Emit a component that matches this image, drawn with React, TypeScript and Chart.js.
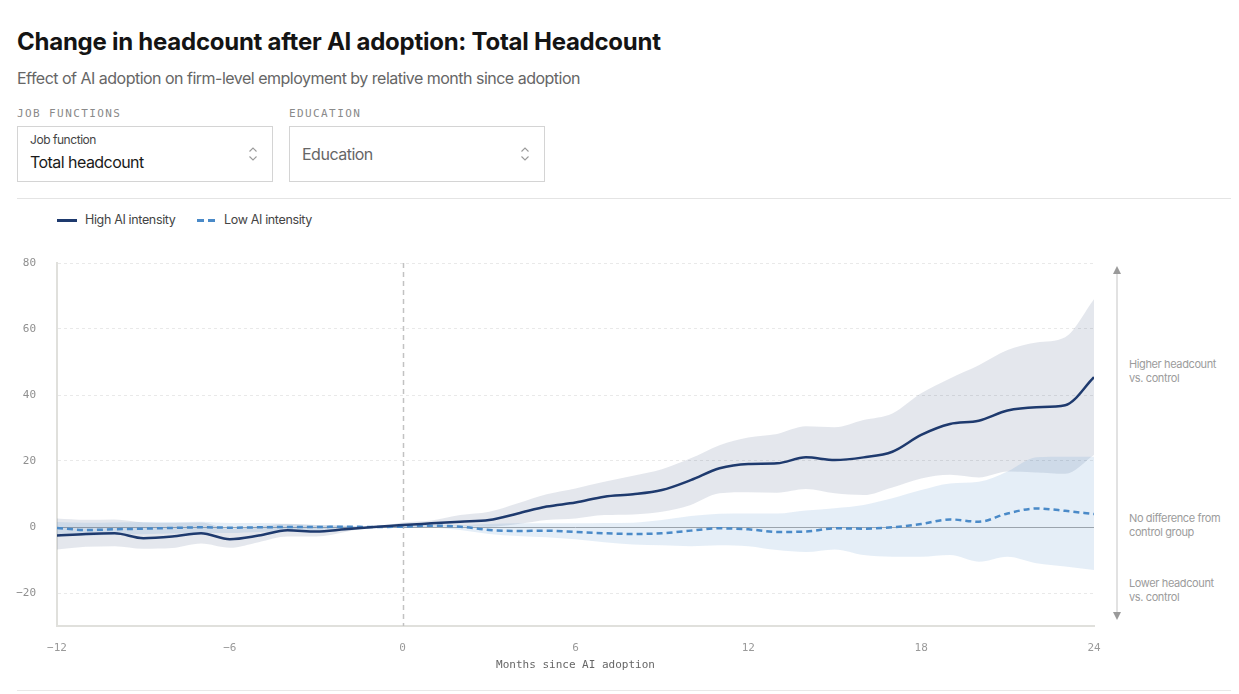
import React, { useEffect, useRef } from "react";
import { Chart, registerables } from "chart.js";

Chart.register(...registerables);

// ---------- data ----------
const months = [-12, -11, -10, -9, -8, -7, -6, -5, -4, -3, -2, -1, 0, 1, 2, 3, 4, 5, 6, 7, 8, 9, 10, 11, 12, 13, 14, 15, 16, 17, 18, 19, 20, 21, 22, 23, 24];

const highMid = [-2.6, -2.1, -1.9, -3.4, -2.9, -1.9, -3.7, -2.6, -1.0, -1.4, -0.7, 0, 0.6, 1.1, 1.6, 2.1, 4.1, 6.2, 7.4, 9.2, 9.9, 11.2, 14.2, 17.8, 19.1, 19.3, 21.1, 20.3, 21.1, 22.8, 27.9, 31.2, 32.2, 35.3, 36.3, 36.9, 45.4];
const highUpper = [2.6, 2.2, 2.3, 1.4, 1.2, 1.4, -0.6, 0.2, 1.0, 0.6, 0.4, 0, 1.4, 2.0, 3.6, 4.6, 7.2, 9.9, 11.7, 13.7, 15.5, 17.5, 20.8, 24.8, 27.1, 28.2, 30.5, 30.2, 32.4, 34.4, 40.5, 45.0, 49.0, 53.6, 55.9, 57.5, 69.0];
const highLower = [-6.8, -6.0, -5.8, -6.6, -6.4, -5.0, -6.3, -4.6, -2.9, -2.9, -1.5, 0, -0.2, 0.1, 0.2, 0.1, 0.9, 2.1, 2.6, 3.6, 3.8, 4.6, 6.7, 10.2, 10.5, 10.4, 11.5, 10.2, 9.7, 12.0, 14.7, 15.8, 15.0, 16.8, 16.5, 16.1, 21.8];

const lowMid = [-0.3, -0.9, -0.7, -0.5, -0.3, -0.1, -0.2, -0.1, 0, 0, 0.1, 0, 0.1, 0.4, 0.1, -0.9, -1.2, -1.1, -1.5, -1.9, -2.1, -1.9, -1.1, -0.4, -0.7, -1.5, -1.4, -0.4, -0.5, -0.1, 0.9, 2.3, 1.6, 4.1, 5.6, 4.9, 3.9];
const lowUpper = [1.5, 1.3, 1.4, 1.5, 1.5, 1.6, 1.2, 1.2, 0.9, 0.6, 0.4, 0, 0.4, 0.7, 0.6, 0.9, 1.1, 1.1, 1.1, 1.2, 1.3, 2.1, 3.3, 4.0, 4.1, 4.1, 5.0, 5.7, 6.7, 8.7, 11.2, 13.2, 13.7, 16.8, 21.1, 21.3, 21.3];
const lowLower = [-2.5, -2.7, -2.3, -2.2, -2.0, -1.8, -1.8, -1.5, -1.2, -0.9, -0.5, 0, -0.3, -0.2, -0.9, -2.1, -2.7, -3.1, -3.7, -4.6, -5.3, -5.5, -5.8, -5.5, -5.8, -7.0, -7.6, -6.8, -8.5, -9.0, -9.0, -8.5, -10.5, -9.0, -11.0, -12.0, -13.0];

const xTicks = [-12, -6, 0, 6, 12, 18, 24];
const yTicks = [-20, 0, 20, 40, 60, 80];

const seriesNames = ["High AI intensity", "Low AI intensity"];

// ---------- styles ----------
const SANS = "Inter, 'Noto Sans', Roboto, sans-serif";
const MONO = "'DejaVu Sans Mono', 'Liberation Mono', monospace";
const HIGH = "#1e3a6e";
const LOW = "#4a8ac8";

const toPts = (vals: number[]) => vals.map((v, i) => ({ x: months[i], y: v }));

const refLines = {
  id: "refLines",
  beforeDatasetsDraw(chart: any) {
    const { ctx, chartArea, scales } = chart;
    const y0 = Math.round(scales.y.getPixelForValue(0)) + 0.5;
    const x0 = Math.round(scales.x.getPixelForValue(0)) + 0.5;
    ctx.save();
    ctx.strokeStyle = "#a9a9a9";
    ctx.lineWidth = 1;
    ctx.beginPath();
    ctx.moveTo(chartArea.left, y0);
    ctx.lineTo(chartArea.right, y0);
    ctx.stroke();
    ctx.setLineDash([5, 4]);
    ctx.strokeStyle = "#c2c2c2";
    ctx.lineWidth = 1.5;
    ctx.beginPath();
    ctx.moveTo(x0, chartArea.top);
    ctx.lineTo(x0, chartArea.bottom);
    ctx.stroke();
    ctx.restore();
  },
};

function ChartCanvas() {
  const ref = useRef<HTMLCanvasElement | null>(null);
  useEffect(() => {
    if (!ref.current) return;
    const band = (data: number[], fill: any, color: string, order: number) => ({
      data: toPts(data),
      borderWidth: 0,
      borderColor: "transparent",
      backgroundColor: color,
      pointRadius: 0,
      fill,
      cubicInterpolationMode: "monotone" as const,
      order,
    });
    const chart = new Chart(ref.current, {
      type: "line",
      data: {
        datasets: [
          band(highUpper, "+1", "rgba(31,58,110,0.12)", 10),
          band(highLower, false, "transparent", 9),
          band(lowUpper, "+1", "rgba(74,138,201,0.14)", 8),
          band(lowLower, false, "transparent", 7),
          {
            label: seriesNames[0],
            data: toPts(highMid),
            borderColor: HIGH,
            borderWidth: 2.5,
            pointRadius: 0,
            fill: false,
            cubicInterpolationMode: "monotone",
            order: 0,
          },
          {
            label: seriesNames[1],
            data: toPts(lowMid),
            borderColor: LOW,
            borderWidth: 2.5,
            borderDash: [6, 4],
            pointRadius: 0,
            fill: false,
            cubicInterpolationMode: "monotone",
            order: 1,
          },
        ],
      },
      options: {
        animation: false,
        responsive: false,
        events: [],
        layout: { padding: { top: 15, right: 14, bottom: 0, left: 0 } },
        plugins: { legend: { display: false }, tooltip: { enabled: false } },
        scales: {
          x: {
            type: "linear",
            min: -12,
            max: 24,
            afterBuildTicks: (s: any) => {
              s.ticks = xTicks.map((v) => ({ value: v }));
            },
            afterFit: (s: any) => {
              s.height = 52;
              s.paddingLeft = 0;
              s.paddingRight = 0;
            },
            grid: { display: false, drawTicks: false },
            border: { display: true, color: "#e0e0dc", width: 2 },
            ticks: {
              padding: 16,
              color: "#9a9a9a",
              font: { family: MONO, size: 11 },
              callback: (v: any) => (v < 0 ? "\u2212" + Math.abs(v) : String(v)),
              maxRotation: 0,
            },
            title: {
              display: true,
              text: "Months since AI adoption",
              color: "#666",
              font: { family: MONO, size: 11 },
              padding: { top: 0, bottom: 6 },
            },
          },
          y: {
            type: "linear",
            min: -30,
            max: 80,
            afterBuildTicks: (s: any) => {
              s.ticks = yTicks.map((v) => ({ value: v }));
            },
            afterFit: (s: any) => {
              s.width = 49;
              s.paddingTop = 0;
              s.paddingBottom = 0;
            },
            grid: {
              drawTicks: false,
              color: (c: any) => (c.tick && c.tick.value === 0 ? "transparent" : "#e9e9e9"),
              lineWidth: 1,
            },
            border: { display: true, color: "#e0e0dc", width: 2, dash: [3, 3] },
            ticks: {
              padding: 21,
              color: "#8f8f8f",
              font: { family: MONO, size: 11 },
              callback: (v: any) => (v < 0 ? "\u2212" + Math.abs(v) : String(v)),
            },
          },
        },
      },
      plugins: [refLines],
    } as any);
    return () => chart.destroy();
  }, []);
  return <canvas ref={ref} width={1100} height={430} style={{ display: "block", width: 1100, height: 430 }} />;
}

function Chevrons({ left, top }: { left: number; top: number }) {
  return (
    <svg width={10} height={16} style={{ position: "absolute", left, top }} viewBox="0 0 10 16">
      <polyline points="1.5,5.5 5,2 8.5,5.5" fill="none" stroke="#9a9a9a" strokeWidth={1.1} />
      <polyline points="1.5,10.5 5,14 8.5,10.5" fill="none" stroke="#9a9a9a" strokeWidth={1.1} />
    </svg>
  );
}

export default function App() {
  const abs = (s: React.CSSProperties): React.CSSProperties => ({ position: "absolute", ...s });
  const box: React.CSSProperties = {
    position: "absolute",
    top: 118,
    width: 256,
    height: 56,
    boxSizing: "border-box",
    border: "1px solid #d4d4d4",
    background: "#fff",
  };
  const monoLabel: React.CSSProperties = {
    position: "absolute",
    top: 99,
    fontFamily: MONO,
    fontSize: 11,
    lineHeight: "14px",
    letterSpacing: 1.4,
    color: "#8a8a8a",
    whiteSpace: "nowrap",
  };
  const note: React.CSSProperties = {
    position: "absolute",
    left: 1121,
    fontFamily: SANS,
    fontSize: 11,
    lineHeight: "14px",
    letterSpacing: -0.38,
    color: "#9c9c9c",
    whiteSpace: "nowrap",
  };
  const legendText: React.CSSProperties = {
    position: "absolute",
    top: 204,
    fontSize: 12.5,
    lineHeight: "16px",
    color: "#444",
    letterSpacing: -0.35,
    whiteSpace: "nowrap",
  };
  return (
    <div style={{ position: "relative", width: 1223, height: 686, fontFamily: SANS, background: "#fff" }}>
      <div style={abs({ left: 9, top: 19, fontSize: 24, lineHeight: "30px", fontWeight: 700, letterSpacing: -0.25, color: "#141414", whiteSpace: "nowrap" })}>
        Change in headcount after AI adoption: Total Headcount
      </div>
      <div style={abs({ left: 9, top: 60, fontSize: 16, lineHeight: "20px", letterSpacing: -0.51, color: "#666", whiteSpace: "nowrap" })}>
        Effect of AI adoption on firm-level employment by relative month since adoption
      </div>

      <div style={{ ...monoLabel, left: 9 }}>JOB FUNCTIONS</div>
      <div style={{ ...monoLabel, left: 281 }}>EDUCATION</div>

      <div style={{ ...box, left: 9 }}>
        <div style={abs({ left: 12, top: 6, fontSize: 12, lineHeight: "14px", color: "#444", letterSpacing: -0.45, whiteSpace: "nowrap" })}>Job function</div>
        <div style={abs({ left: 12, top: 25, fontSize: 16, lineHeight: "20px", color: "#1a1a1a", letterSpacing: -0.55, whiteSpace: "nowrap" })}>Total headcount</div>
        <Chevrons left={230} top={19} />
      </div>
      <div style={{ ...box, left: 281 }}>
        <div style={abs({ left: 12, top: 17, fontSize: 16, lineHeight: "20px", color: "#666", letterSpacing: -0.5, whiteSpace: "nowrap" })}>Education</div>
        <Chevrons left={230} top={19} />
      </div>

      <div style={abs({ left: 9, top: 190, width: 1214, height: 1, background: "#e4e4e4" })} />

      {/* legend */}
      <div style={abs({ left: 49, top: 211, width: 20, height: 3, background: HIGH })} />
      <div style={{ ...legendText, left: 77 }}>{seriesNames[0]}</div>
      <div style={abs({ left: 189, top: 211, width: 7, height: 3, background: LOW })} />
      <div style={abs({ left: 200, top: 211, width: 7, height: 3, background: LOW })} />
      <div style={{ ...legendText, left: 216 }}>{seriesNames[1]}</div>

      <div style={abs({ left: 0, top: 240 })}>
        <ChartCanvas />
      </div>

      {/* right annotation */}
      <svg width={12} height={356} style={abs({ left: 1103, top: 257 })} viewBox="0 0 12 356">
        <line x1={6} y1={8} x2={6} y2={348} stroke="#e2e2e2" strokeWidth={2} />
        <polygon points="6,1 10,9 2,9" fill="#9a9a9a" />
        <polygon points="6,355 10,347 2,347" fill="#9a9a9a" />
      </svg>
      <div style={{ ...note, top: 349 }}>Higher headcount<br />vs. control</div>
      <div style={{ ...note, top: 503 }}>No difference from<br />control group</div>
      <div style={{ ...note, top: 568 }}>Lower headcount<br />vs. control</div>

      <div style={abs({ left: 9, top: 682, width: 1214, height: 1, background: "#e8e8e8" })} />
    </div>
  );
}
